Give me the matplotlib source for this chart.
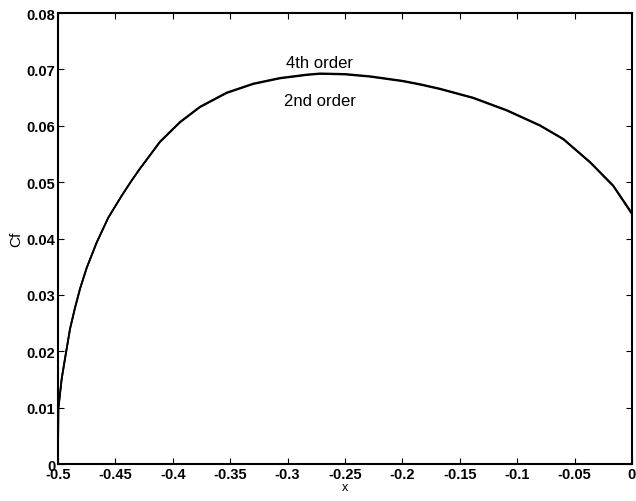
import numpy as np
from matplotlib import pyplot as plt

plt.rcParams['font.family'] = ['Liberation Sans', 'DejaVu Sans']
plt.rcParams['axes.unicode_minus'] = False

# skin friction along the plate
x = [-0.5, -0.4997, -0.4968, -0.4939, -0.4895, -0.4852, -0.4808, -0.475,
     -0.4663, -0.4562, -0.4445, -0.4358, -0.4286, -0.4112, -0.3937, -0.3763,
     -0.3531, -0.3299, -0.3066, -0.2834, -0.2718, -0.25, -0.2282, -0.2,
     -0.1847, -0.1673, -0.1383, -0.1092, -0.0801, -0.0599, -0.0366, -0.0163,
     0.0]
cf_4th = [0.002, 0.0098, 0.0151, 0.0187, 0.0240, 0.0277, 0.0311, 0.0348,
          0.0393, 0.0437, 0.0476, 0.0503, 0.0524, 0.0572, 0.0607, 0.0634,
          0.0659, 0.0675, 0.0685, 0.0691, 0.0693, 0.0692, 0.0688, 0.0680,
          0.0674, 0.0666, 0.0650, 0.0628, 0.0601, 0.0577, 0.0536, 0.0494,
          0.0445]
cf_2nd = [0.002, 0.0098, 0.0151, 0.0187, 0.0240, 0.0277, 0.0311, 0.0348,
          0.0393, 0.0437, 0.0476, 0.0503, 0.0524, 0.0571, 0.0606, 0.0633,
          0.0658, 0.0674, 0.0684, 0.0690, 0.0692, 0.0691, 0.0687, 0.0679,
          0.0673, 0.0665, 0.0649, 0.0627, 0.0600, 0.0576, 0.0535, 0.0493,
          0.0443]

x_ticks = np.arange(-0.5, 0.001, 0.05)
x_labels = ['-0.5', '-0.45', '-0.4', '-0.35', '-0.3', '-0.25', '-0.2',
            '-0.15', '-0.1', '-0.05', '0']
y_ticks = np.arange(0, 0.0801, 0.01)
y_labels = ['0', '0.01', '0.02', '0.03', '0.04', '0.05', '0.06', '0.07', '0.08']

fig = plt.figure(figsize=(6.36, 5.02), dpi=100)
ax = fig.add_axes([0.0912, 0.0737, 0.9025, 0.8983])

ax.plot(x, cf_4th, c='k', lw=1.3)
ax.plot(x, cf_2nd, c='k', lw=1.3)

ax.text(-0.272, 0.0712, '4th order', ha='center', va='center', fontsize=12)
ax.text(-0.272, 0.0645, '2nd order', ha='center', va='center', fontsize=12)

ax.set_xlim(-0.5, 0)
ax.set_ylim(0, 0.08)
ax.set_xticks(x_ticks)
ax.set_xticklabels(x_labels, fontweight='bold')
ax.set_yticks(y_ticks)
ax.set_yticklabels(y_labels, fontweight='bold')
ax.tick_params(direction='in', top=True, right=True, length=4, labelsize=10.5, pad=2)
for s in ax.spines.values():
    s.set_linewidth(1.5)
ax.set_xlabel('x', fontsize=9, labelpad=0)
ax.set_ylabel('Cf', fontsize=11, labelpad=2)

fig.savefig('out.png', dpi=100)
